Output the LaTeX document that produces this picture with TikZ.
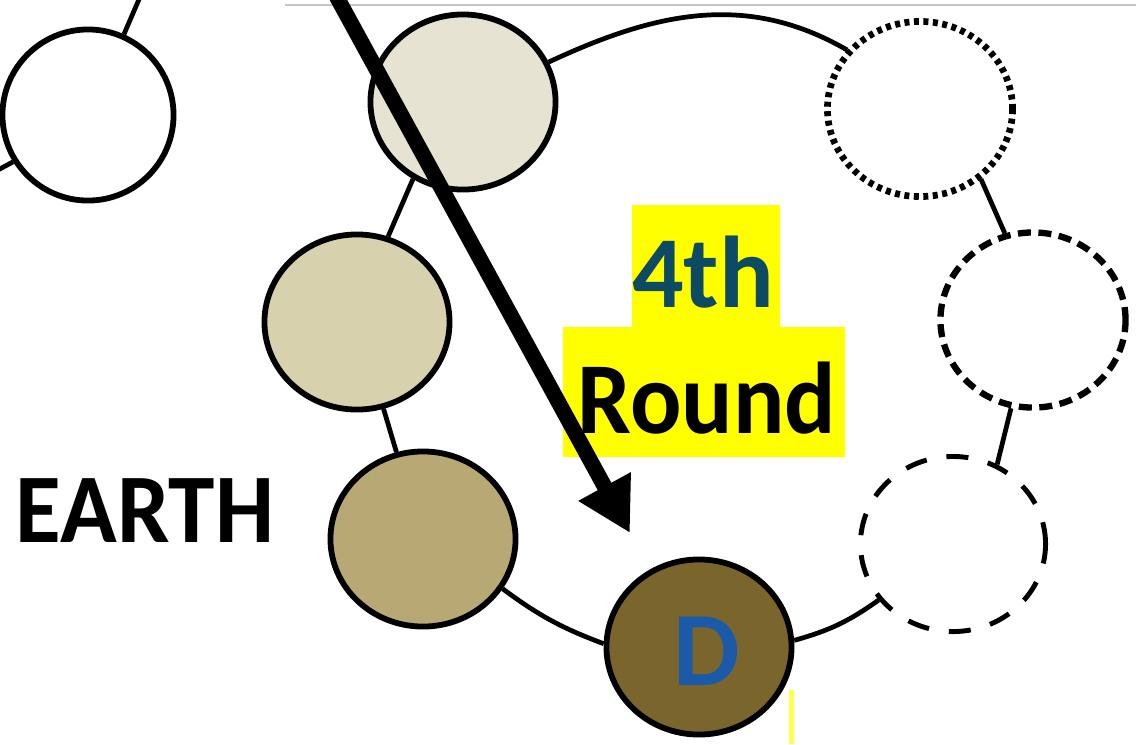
\documentclass[tikz,border=0pt]{standalone}
\usepackage{fontspec}
\setmainfont{Carlito}
\usetikzlibrary{shapes.geometric,arrows.meta}
\definecolor{fillA}{HTML}{E6E3D2}
\definecolor{fillB}{HTML}{D8D1AE}
\definecolor{fillC}{HTML}{B8A974}
\definecolor{fillD}{HTML}{7A652C}
\definecolor{hl}{HTML}{FFFF00}
\definecolor{tealdark}{HTML}{0D4A63}
\definecolor{dblue}{HTML}{1B5AA8}
\begin{document}
\begin{tikzpicture}[x=0.01cm,y=0.01cm,
  ball/.style={ellipse,draw=black,line width=1.65pt,minimum width=1.85cm,minimum height=1.75cm,inner sep=0pt},
  link/.style={draw=black,line width=1.35pt},
  lbl/.style={font=\bfseries\fontsize{29pt}{29pt}\selectfont,inner sep=0pt,anchor=base}]
\useasboundingbox (0,0) rectangle (1136,-744);
\clip (0,0) rectangle (1136,-744);
\fill[white] (0,0) rectangle (1136,-744);
\draw[black!22, line width=0.5pt] (285,-5) -- (1136,-5);
% highlight boxes
\fill[hl] (632,-205) rectangle (780,-327);
\fill[hl] (563,-327) rectangle (845,-457);
\fill[hl!70] (789,-690) rectangle (794,-744);
% circles
\node[ball, fill=white, minimum width=1.71cm, minimum height=1.71cm] (c1) at (88,-115) {};
\node[ball, fill=fillA] (c2) at (463,-102) {};
\node[ball, fill=fillB] (c3) at (357,-322) {};
\node[ball, fill=fillC] (c4) at (423,-539) {};
\node[ball, fill=fillD] (cd) at (699,-647) {};
\node[ball, fill=none, line width=1.4pt, dash pattern=on 0.22cm off 0.2cm] (r1) at (953,-544) {};
\node[ball, fill=none, line width=1.8pt, dash pattern=on 0.13cm off 0.075cm] (r2) at (1033,-320) {};
\node[ball, fill=none, line width=1.9pt, dash pattern=on 0.05cm off 0.045cm] (r3) at (920,-109) {};
% free ends
\coordinate (t1) at (143,10);
\coordinate (t2) at (-30,-185);
% connectors
\draw[link] (c1.66) -- (t1);
\draw[link] (c1.-148) -- (t2);
\draw[link] (c2.25) to[out=25,in=150] (r3.141);
\draw[link] (r3.-49) -- (r2.108);
\draw[link] (r2.-104) -- (r1.61);
\draw[link] (r1.-143) to[bend left=10] (cd.4);
\draw[link] (cd.178) to[bend left=8] (c4.-32);
\draw[link] (c4.107) -- (c3.-73);
\draw[link] (c3.70) -- (c2.-123);
% texts
\node[lbl, text=tealdark] (t4) at (703,-307) {4th};
\node[lbl, xscale=0.94] (tr) at (707,-433) {Round};
\node[lbl, font=\bfseries\fontsize{28pt}{28pt}\selectfont, xscale=0.95] (te) at (145,-542) {EARTH};
\node[lbl, text=dblue, font=\bfseries\fontsize{30pt}{30pt}\selectfont] (dl) at (707,-685) {D};
% arrow
\coordinate (astart) at (333,10);
\coordinate (atip) at (630,-533);
\draw[line width=4.4pt, -{Triangle[length=0.53cm,width=0.56cm]}] (astart) -- (atip);
\end{tikzpicture}
\end{document}
